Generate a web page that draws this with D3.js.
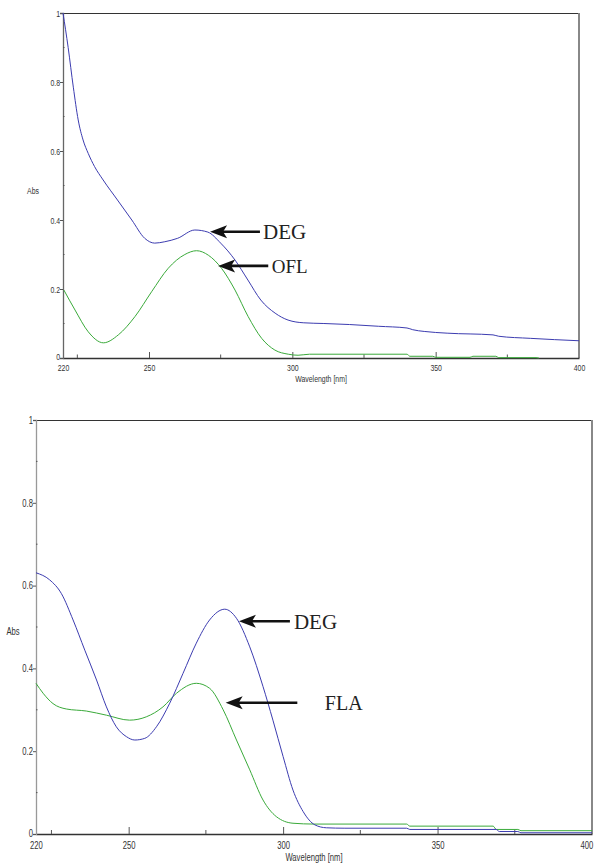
<!DOCTYPE html>
<html>
<head>
<meta charset="utf-8">
<script src="https://cdn.jsdelivr.net/npm/d3@7"></script>
<style>
  html, body { margin: 0; padding: 0; background: #fff; }
  svg { display: block; }
  .tick-label { font-family: "Liberation Sans", Arial, sans-serif; fill: #333; }
  .ann { font-family: "Liberation Serif", "Times New Roman", serif; fill: #222; }
</style>
</head>
<body>
<svg id="chart" width="598" height="863"></svg>
<script>
// ---------------- DATA ----------------
const xTicksMajor = [220, 250, 300, 350, 400];
const xTicksMinor = [225, 275, 325, 375];
const yTicksMajor = [0, 0.2, 0.4, 0.6, 0.8, 1];
const yTicksMinor = [0.1, 0.3, 0.5, 0.7, 0.9];
const yTickLabels = ["0", "0.2", "0.4", "0.6", "0.8", "1"];
const xLabel = "Wavelength [nm]";
const yLabel = "Abs";

// Top panel: DEG (blue) and OFL (green)
const topDegWl  = [220, 221.8, 223.6, 225.3, 227, 228.8, 231, 234, 239, 244, 248.5, 252, 255.5, 260, 266, 270.5, 275, 280, 284.5, 289, 294, 298.5, 304, 311, 320, 330, 340, 342, 346, 354, 370, 372, 383, 400];
const topDegAbs = [1.0, 0.90, 0.785, 0.69, 0.632, 0.593, 0.555, 0.516, 0.458, 0.40, 0.347, 0.333, 0.337, 0.347, 0.371, 0.365, 0.333, 0.284, 0.226, 0.168, 0.13, 0.11, 0.102, 0.10, 0.097, 0.092, 0.087, 0.082, 0.077, 0.072, 0.067, 0.063, 0.057, 0.050];
const topOflWl  = [220.3, 224.2, 228.8, 234.1, 239.3, 245.1, 250.9, 256.7, 262.5, 266.6, 270.7, 275.3, 280, 284.6, 289.3, 293.9, 298.6, 302, 306, 340, 341, 349, 350, 362, 363, 371, 372, 385, 386];
const topOflAbs = [0.197, 0.139, 0.076, 0.044, 0.067, 0.12, 0.192, 0.26, 0.30, 0.311, 0.298, 0.26, 0.197, 0.12, 0.057, 0.023, 0.011, 0.008, 0.011, 0.011, 0.005, 0.005, 0.002, 0.002, 0.005, 0.005, 0.001, 0.001, 0.0];

// Bottom panel: DEG (blue) and FLA (green)
const botDegWl  = [220, 224.4, 228.2, 232, 235.8, 239.6, 242.8, 246, 249.3, 252, 255.2, 259, 263.3, 267.6, 271.9, 276.2, 281.1, 284.9, 289.2, 293.5, 296.7, 300, 303.2, 306.5, 310.3, 314, 320, 340, 341, 369, 370, 376, 377, 400];
const botDegAbs = [0.631, 0.614, 0.581, 0.517, 0.444, 0.372, 0.307, 0.259, 0.235, 0.227, 0.231, 0.259, 0.316, 0.388, 0.461, 0.517, 0.543, 0.521, 0.452, 0.356, 0.275, 0.187, 0.106, 0.054, 0.022, 0.015, 0.014, 0.014, 0.011, 0.011, 0.006, 0.006, 0.003, 0.003];
const botFlaWl  = [220, 222.3, 225.5, 229.8, 236.3, 242.8, 250.3, 255.7, 261.1, 265.5, 271.9, 276.2, 280.6, 284.9, 289.2, 293.5, 297.8, 303.2, 310, 340, 341, 368, 369, 376, 377, 400];
const botFlaAbs = [0.364, 0.340, 0.315, 0.302, 0.297, 0.287, 0.275, 0.283, 0.307, 0.34, 0.364, 0.352, 0.300, 0.227, 0.155, 0.082, 0.042, 0.026, 0.024, 0.024, 0.019, 0.019, 0.011, 0.011, 0.008, 0.008];

// Annotations (arrow tip in data coords, tail wavelength, text start wavelength)
const topAnnLabels = ["DEG", "OFL"];
const topAnnTipWl  = [271.3, 274.1];
const topAnnTipAbs = [0.366, 0.267];
const topAnnTailWl = [288.7, 291.6];
const topAnnTextWl = [289.8, 292.8];

const botAnnLabels = ["DEG", "FLA"];
const botAnnTipWl  = [285.7, 281.4];
const botAnnTipAbs = [0.514, 0.317];
const botAnnTailWl = [302.2, 304.6];
const botAnnTextWl = [303.5, 313.5];

// ---------------- DRAW ----------------
const svg = d3.select("#chart");
const blue = "#3c3cb0";
const green = "#3aaa3a";
const SX = 0.73; // narrow look for the axis font

function zip(a, b) { return a.map((v, i) => [v, b[i]]); }

function panel(cfg) {
  const g = svg.append("g");
  const x = d3.scaleLinear().domain([220, 400]).range([cfg.left, cfg.right]);
  const y = d3.scaleLinear().domain([0, 1]).range([cfg.bottom, cfg.top]);

  // box: top & right
  g.append("line").attr("x1", cfg.left).attr("x2", cfg.right).attr("y1", cfg.top).attr("y2", cfg.top)
    .attr("stroke", "#333").attr("stroke-width", 1).attr("shape-rendering", "crispEdges");
  g.append("line").attr("x1", cfg.right).attr("x2", cfg.right).attr("y1", cfg.top).attr("y2", cfg.bottom)
    .attr("stroke", "#888").attr("stroke-width", 1.5).attr("shape-rendering", "crispEdges");

  // x axis (ticks pointing up, inside)
  const xAxis = d3.axisBottom(x).tickValues(xTicksMajor).tickSize(0).tickPadding(cfg.xPad).tickFormat(d3.format("d"));
  const gx = g.append("g").attr("transform", `translate(0,${cfg.bottom})`).call(xAxis);
  gx.select(".domain").attr("stroke", "#333").attr("stroke-width", 1.3);
  gx.selectAll("text").attr("class", "tick-label").style("font-size", cfg.font + "px")
    .attr("transform", `scale(${SX},1)`);
  if (cfg.lastLabelEnd) {
    gx.selectAll(".tick").filter(d => d === 400).select("text").attr("text-anchor", "end").attr("x", 1);
  }
  gx.selectAll(".tick").filter(d => d !== 220 && d !== 400).append("line")
    .attr("y1", 0).attr("y2", -cfg.majorLen).attr("stroke", "#555");
  g.append("g").selectAll("line").data(xTicksMinor).join("line")
    .attr("x1", d => x(d)).attr("x2", d => x(d))
    .attr("y1", cfg.bottom).attr("y2", cfg.bottom - cfg.minorLen).attr("stroke", "#555");

  // y axis (ticks pointing out, left)
  const yAxis = d3.axisLeft(y).tickValues(yTicksMajor).tickSize(3).tickPadding(1)
    .tickFormat((d, i) => yTickLabels[i]);
  const gy = g.append("g").attr("transform", `translate(${cfg.left},0)`).call(yAxis);
  gy.select(".domain").attr("stroke", cfg.yAxisColor).attr("stroke-width", 1.3);
  gy.selectAll(".tick line").attr("stroke", "#555");
  gy.selectAll("text").attr("class", "tick-label").style("font-size", cfg.font + "px")
    .attr("x", -3 / SX).attr("transform", `scale(${SX},1)`);
  gy.selectAll(".tick").filter(d => d === 0).select("text").attr("dy", "0.2em");
  g.append("g").selectAll("line").data(yTicksMinor).join("line")
    .attr("x1", cfg.left).attr("x2", cfg.left + 1.5)
    .attr("y1", d => y(d)).attr("y2", d => y(d)).attr("stroke", "#555");

  // axis titles
  g.append("text").attr("class", "tick-label").style("font-size", cfg.font + "px")
    .attr("transform", `translate(${(cfg.left + cfg.right) / 2},${cfg.bottom + cfg.titlePad}) scale(${SX},1)`)
    .attr("text-anchor", "middle").text(xLabel);
  g.append("text").attr("class", "tick-label").style("font-size", cfg.font + "px")
    .attr("transform", `translate(${cfg.absX},${(cfg.top + cfg.bottom) / 2 + 8}) scale(${SX},1)`)
    .attr("text-anchor", "middle").text(yLabel);

  // curves
  const line = d3.line().x(d => x(d[0])).y(d => y(d[1])).curve(d3.curveMonotoneX);
  g.append("path").datum(cfg.green).attr("d", line).attr("fill", "none").attr("stroke", green).attr("stroke-width", 1);
  g.append("path").datum(cfg.blue).attr("d", line).attr("fill", "none").attr("stroke", blue).attr("stroke-width", 1);

  // annotations
  cfg.ann.labels.forEach((lab, i) => {
    const tx = x(cfg.ann.tipWl[i]), ty = y(cfg.ann.tipAbs[i]);
    const tailX = x(cfg.ann.tailWl[i]);
    g.append("line").attr("x1", tx + 12).attr("x2", tailX).attr("y1", ty).attr("y2", ty)
      .attr("stroke", "#111").attr("stroke-width", 2.6);
    g.append("path")
      .attr("d", `M${tx},${ty} L${tx + 17},${ty - 6.5} L${tx + 13},${ty} L${tx + 17},${ty + 6.5} Z`)
      .attr("fill", "#111");
    g.append("text").attr("class", "ann").style("font-size", cfg.ann.sizes[i] + "px")
      .attr("x", x(cfg.ann.textWl[i])).attr("y", ty).attr("dy", "0.35em").text(lab);
  });
}

panel({
  left: 63, right: 579, top: 13, bottom: 358,
  xPad: 6.5, font: 9.5, majorLen: 6, minorLen: 3.5, titlePad: 24, absX: 33,
  yAxisColor: "#666", lastLabelEnd: false,
  blue: zip(topDegWl, topDegAbs), green: zip(topOflWl, topOflAbs),
  ann: { labels: topAnnLabels, tipWl: topAnnTipWl, tipAbs: topAnnTipAbs, tailWl: topAnnTailWl, textWl: topAnnTextWl, sizes: [21, 19] }
});

panel({
  left: 36, right: 592, top: 420, bottom: 834,
  xPad: 7.5, font: 10.5, majorLen: 7, minorLen: 4, titlePad: 27, absX: 13,
  yAxisColor: "#999", lastLabelEnd: true,
  blue: zip(botDegWl, botDegAbs), green: zip(botFlaWl, botFlaAbs),
  ann: { labels: botAnnLabels, tipWl: botAnnTipWl, tipAbs: botAnnTipAbs, tailWl: botAnnTailWl, textWl: botAnnTextWl, sizes: [21, 20] }
});
</script>
</body>
</html>
